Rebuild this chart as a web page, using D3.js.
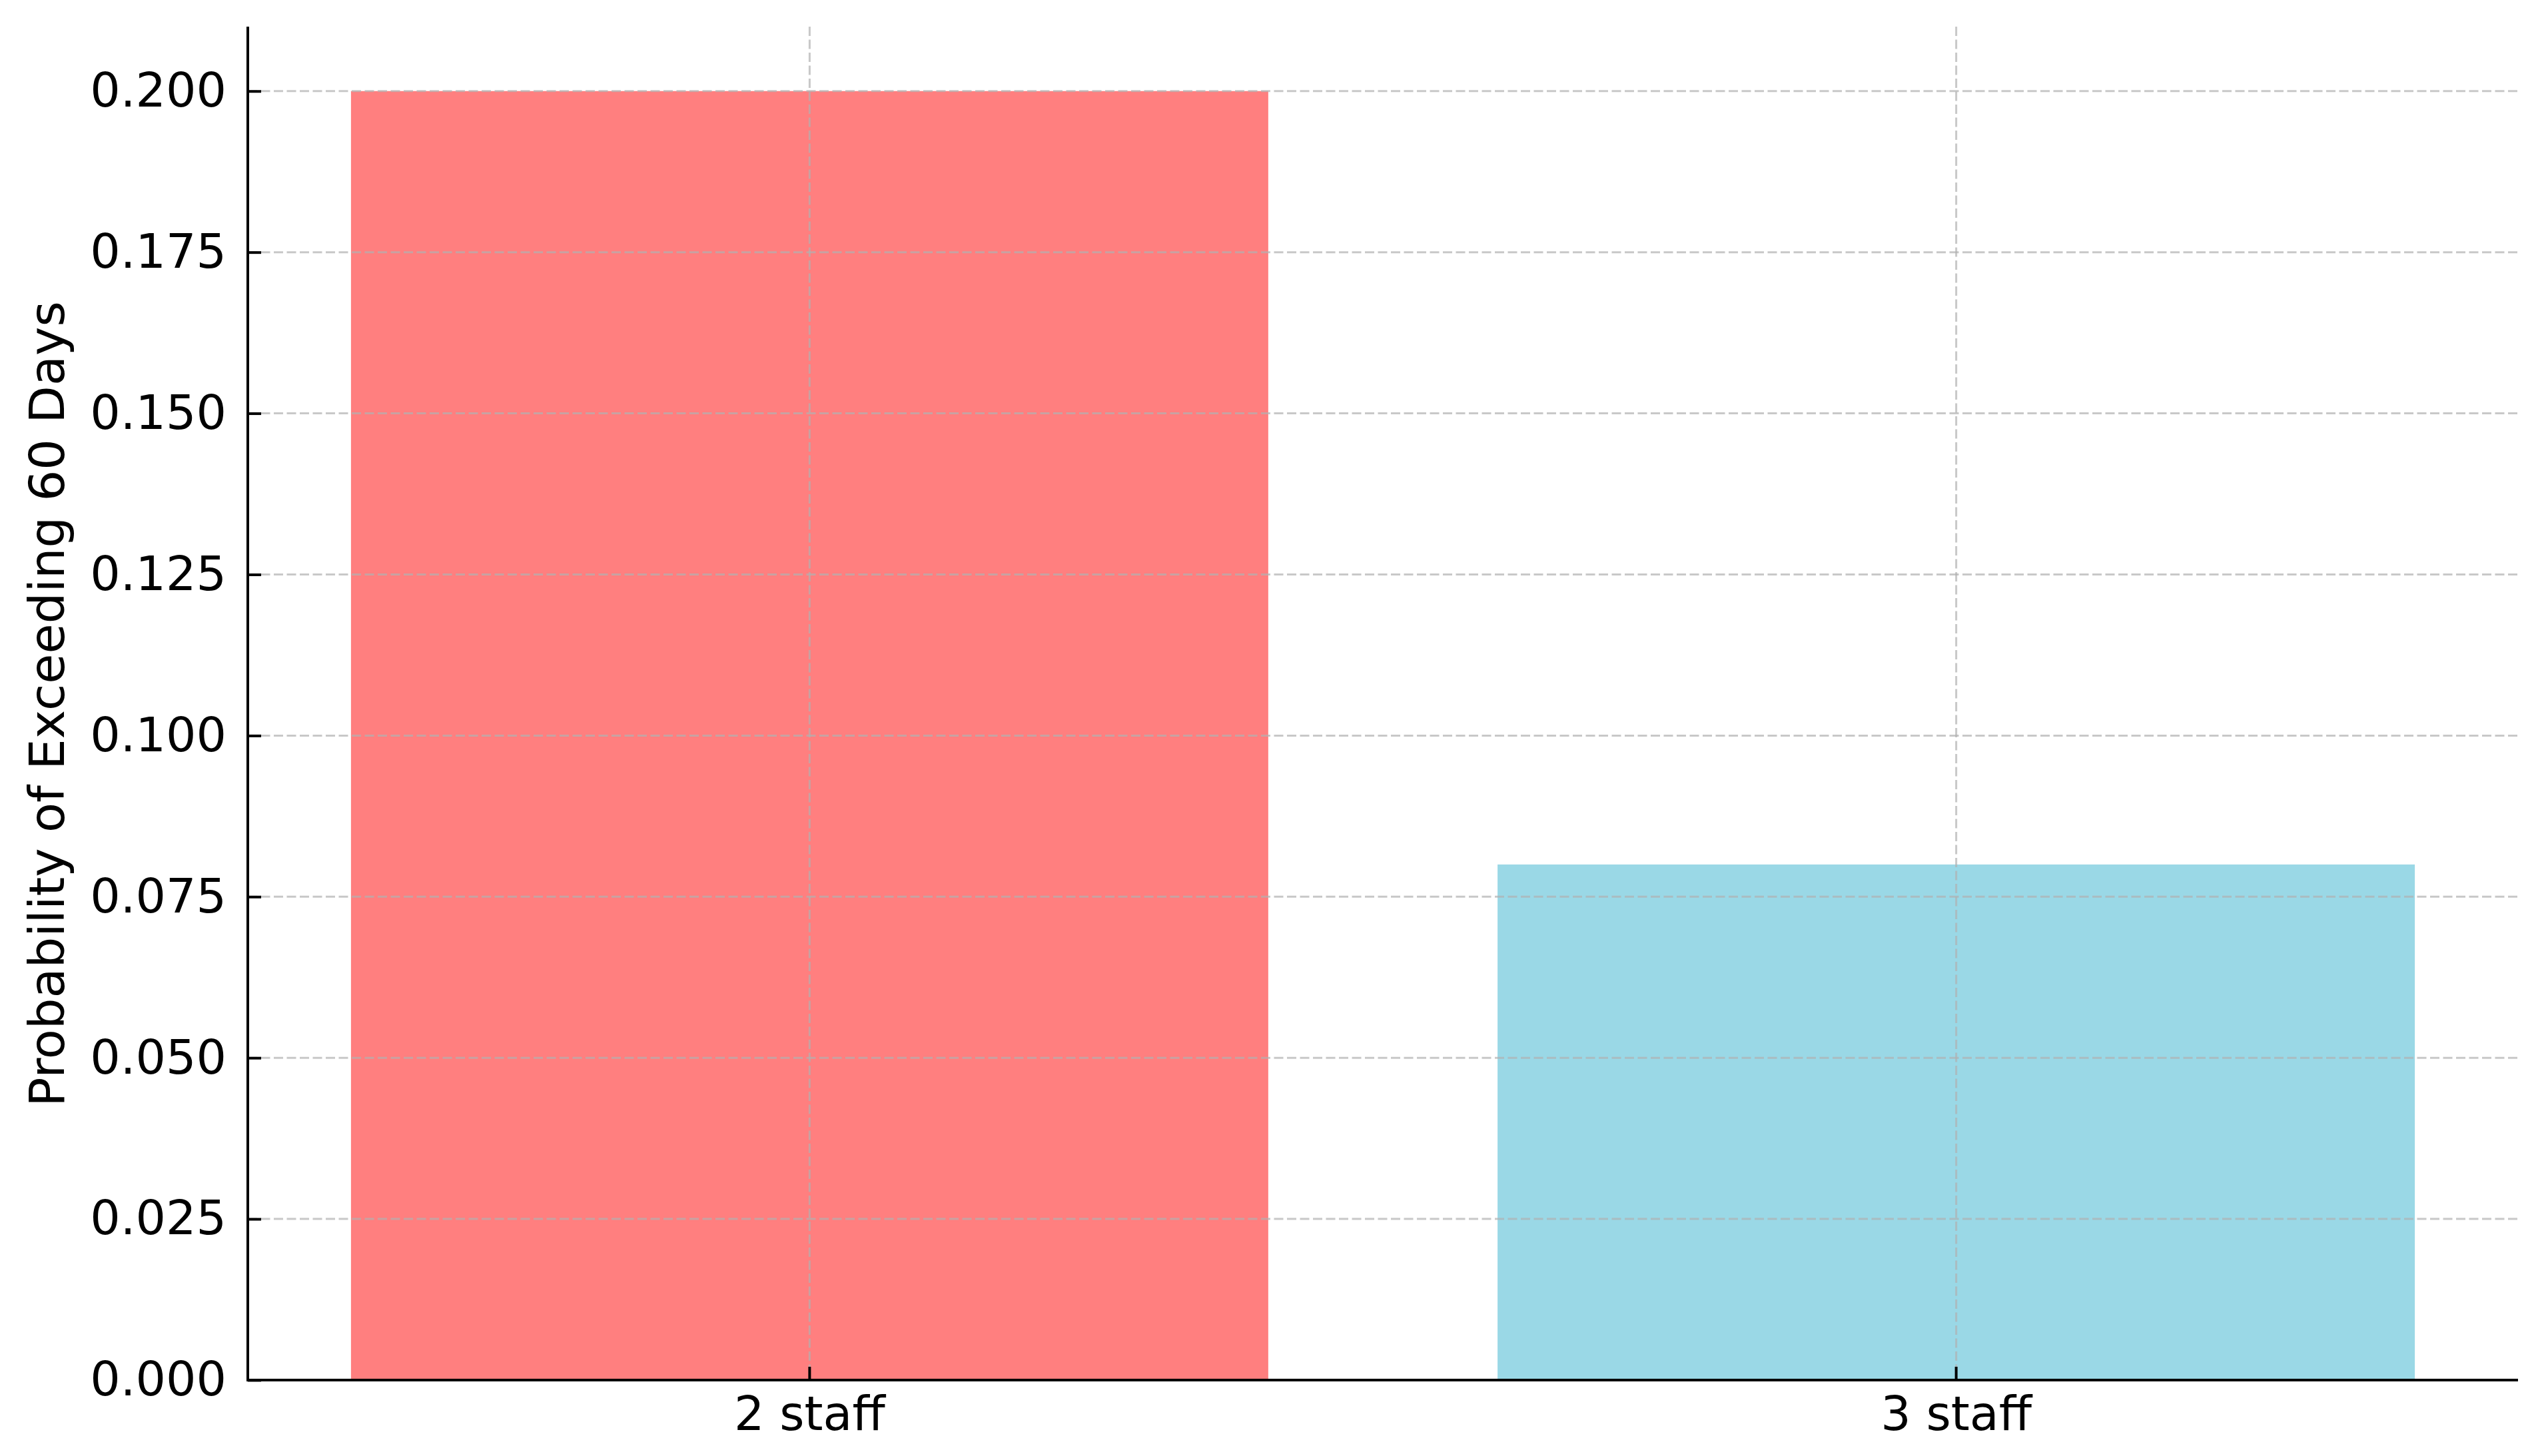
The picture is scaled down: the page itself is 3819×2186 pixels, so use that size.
<!DOCTYPE html>
<html>
<head>
<meta charset="utf-8">
<script src="https://cdn.jsdelivr.net/npm/d3@7"></script>
<style>
  html, body { margin: 0; padding: 0; background: #fff; }
  svg { display: block; }
  text { font-family: "DejaVu Sans", sans-serif; fill: #000; }
</style>
</head>
<body>
<svg id="chart" width="3819" height="2186"></svg>
<script>
const categories = ["2 staff", "3 staff"];
const values = [0.20, 0.08];
const barColors = ["#FF7F7F", "#9AD8E6"];
const yTicks = [0, 0.025, 0.05, 0.075, 0.1, 0.125, 0.15, 0.175, 0.2];
const yLabel = "Probability of Exceeding 60 Days";

const plotLeft = 372, plotRight = 3780, plotTop = 40, plotBottom = 2072;

const svg = d3.select("#chart");

const x = d3.scaleBand()
  .domain(categories)
  .range([plotLeft, plotRight])
  .paddingInner(0.2)
  .paddingOuter(0.09);

const y = d3.scaleLinear().domain([0, 0.21]).range([plotBottom, plotTop]);

// bars
svg.append("g").selectAll("rect")
  .data(categories)
  .join("rect")
  .attr("x", d => x(d))
  .attr("width", x.bandwidth())
  .attr("y", (d, i) => y(values[i]))
  .attr("height", (d, i) => y(0) - y(values[i]))
  .attr("fill", (d, i) => barColors[i]);

// grid (on top of bars)
const grid = svg.append("g")
  .attr("stroke", "#b0b0b0")
  .attr("stroke-opacity", 0.7)
  .attr("stroke-width", 3)
  .attr("stroke-dasharray", "14,5.5");
grid.selectAll("line.h")
  .data(yTicks)
  .join("line")
  .attr("class", "h")
  .attr("x1", plotLeft).attr("x2", plotRight)
  .attr("y1", d => y(d)).attr("y2", d => y(d));
grid.selectAll("line.v")
  .data(categories)
  .join("line")
  .attr("class", "v")
  .attr("x1", d => x(d) + x.bandwidth() / 2)
  .attr("x2", d => x(d) + x.bandwidth() / 2)
  .attr("y1", plotTop).attr("y2", plotBottom);

// y axis
const yAxis = d3.axisLeft(y)
  .tickValues(yTicks)
  .tickFormat(d3.format(".3f"))
  .tickSizeInner(-20)
  .tickSizeOuter(0)
  .tickPadding(32);
const gy = svg.append("g").attr("transform", `translate(${plotLeft},0)`).call(yAxis);
gy.select(".domain").attr("stroke", "#000").attr("stroke-width", 4)
  .attr("d", `M0,${plotTop}V${plotBottom}`);
gy.selectAll(".tick line").attr("stroke", "#000").attr("stroke-width", 4);
gy.selectAll(".tick text")
  .attr("font-family", "DejaVu Sans")
  .attr("font-size", 71.5)
  .attr("fill", "#000");

// x axis
const xAxis = d3.axisBottom(x)
  .tickSizeInner(-20)
  .tickSizeOuter(0)
  .tickPadding(24);
const gx = svg.append("g").attr("transform", `translate(0,${plotBottom})`).call(xAxis);
gx.select(".domain").attr("stroke", "#000").attr("stroke-width", 4)
  .attr("d", `M${plotLeft - 2},0H${plotRight}`);
gx.selectAll(".tick line").attr("stroke", "#000").attr("stroke-width", 4);
gx.selectAll(".tick text")
  .attr("font-family", "DejaVu Sans")
  .attr("font-size", 71.5)
  .attr("fill", "#000");

// y label
svg.append("text")
  .attr("transform", `translate(96,${(plotTop + plotBottom) / 2 + 1}) rotate(-90)`)
  .attr("text-anchor", "middle")
  .attr("font-size", 73.5)
  .text(yLabel);
</script>
</body>
</html>
